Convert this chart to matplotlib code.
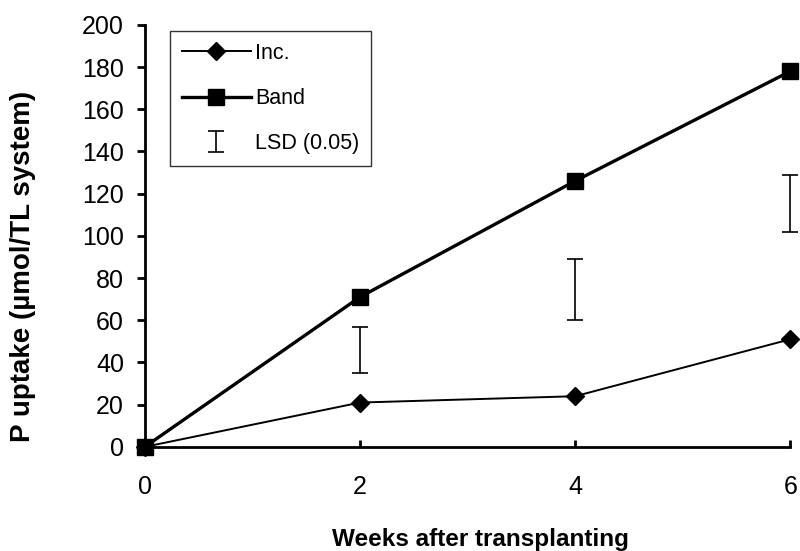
import matplotlib.pyplot as plt
import numpy as np

plt.rcParams["font.family"] = "Liberation Sans"

weeks = [0, 2, 4, 6]
inc = [0, 21, 24, 51]
band = [0, 71, 126, 178]

lsd_x = [2, 4, 6]
lsd_lo = [35, 60, 102]
lsd_hi = [57, 89, 129]

fig = plt.figure(figsize=(8, 5.51), dpi=100)
ax = fig.add_axes([0.181, 0.189, 0.807, 0.766])

ax.plot(weeks, inc, color='black', lw=1.4, marker='D', ms=9.5,
        label='Inc.', clip_on=False, zorder=3)
ax.plot(weeks, band, color='black', lw=2.4, marker='s', ms=12,
        label='Band', clip_on=False, zorder=4)

lsd_mid = (np.array(lsd_lo) + np.array(lsd_hi)) / 2
lsd_err = (np.array(lsd_hi) - np.array(lsd_lo)) / 2
ax.errorbar(lsd_x, lsd_mid, yerr=lsd_err, fmt='none', ecolor='black',
            elinewidth=1.2, capsize=5.5, capthick=1.2, label='LSD (0.05)',
            clip_on=False)

ax.set_xlim(0, 6)
ax.set_ylim(0, 200)
ax.set_xticks([0, 2, 4, 6])
ax.set_yticks(range(0, 201, 20))

for s in ['top', 'right']:
    ax.spines[s].set_visible(False)
for s in ['left', 'bottom']:
    ax.spines[s].set_linewidth(2)

ax.tick_params(axis='y', direction='out', length=6, width=2, labelsize=18, pad=9)
ax.tick_params(axis='x', direction='in', length=5, width=2, labelsize=18, pad=20)

ax.set_xlabel('Weeks after transplanting', fontsize=17.5, fontweight='bold')
ax.set_ylabel('P uptake (µmol/TL system)', fontsize=20, fontweight='bold')
ax.xaxis.set_label_coords(0.52, -0.192)
ax.yaxis.set_label_coords(-0.168, 0.427)

leg = ax.legend(loc='upper left', bbox_to_anchor=(0.039, 0.985), borderaxespad=0,
                fontsize=15.5, frameon=True, fancybox=False, edgecolor='black',
                handlelength=3.2, handletextpad=0.2, borderpad=0.55,
                labelspacing=1.12)
leg.get_frame().set_linewidth(1)

fig.savefig('out.png', dpi=100)
